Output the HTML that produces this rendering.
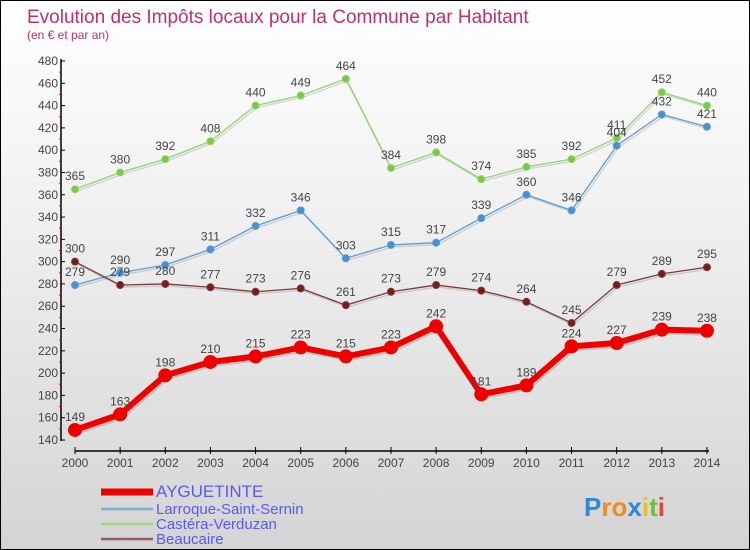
<!DOCTYPE html>
<html><head><meta charset="utf-8"><style>
body{margin:0;}
#c{width:748px;height:548px;border:1px solid #000;background:linear-gradient(#fff 0%,#f0f0f0 40%,#d4d4d4 100%);position:relative;font-family:"Liberation Sans",sans-serif;overflow:hidden}
</style></head><body>
<div id="c">
<svg id="s" width="748" height="548"></svg>
</div>
<script>
const years=[2000,2001,2002,2003,2004,2005,2006,2007,2008,2009,2010,2011,2012,2013,2014];
const ayg=[149,163,198,210,215,223,215,223,242,181,189,224,227,239,238];
const lar=[279,290,297,311,332,346,303,315,317,339,360,346,404,432,421];
const cas=[365,380,392,408,440,449,464,384,398,374,385,392,411,452,440];
const bea=[300,279,280,277,273,276,261,273,279,274,264,245,279,289,295];
const yTicks=[140,160,180,200,220,240,260,280,300,320,340,360,380,400,420,440,460,480];
const NS="http://www.w3.org/2000/svg",s=document.getElementById('s');
const X=i=>74+i*45.14, Y=v=>439-(v-140)*(379/340);
function el(t,a,p){const e=document.createElementNS(NS,t);for(const k in a)e.setAttribute(k,a[k]);(p||s).appendChild(e);return e;}
let t=el('text',{x:26,y:22,'font-size':19,fill:'#c0306a'});t.textContent='Evolution des Impôts locaux pour la Commune par Habitant';

t=el('text',{x:26,y:38,'font-size':12,fill:'#c0306a'});t.textContent='(en € et par an)';

let a=el('line',{x1:60,y1:58,x2:60,y2:440,stroke:'#000','stroke-width':1.5});

a=el('line',{x1:74,y1:450,x2:708,y2:450,stroke:'#000','stroke-width':1.5});

yTicks.forEach((v,i)=>{el('line',{x1:60,y1:Y(v),x2:64,y2:Y(v),stroke:'#000'});
 if(i<yTicks.length-1)el('line',{x1:58,y1:Y(v+10),x2:61,y2:Y(v+10),stroke:'#e00'});
 const l=el('text',{x:57,y:Y(v)+4,'font-size':12,'text-anchor':'end',fill:'#444'});l.textContent=v;
 });
years.forEach((y,i)=>{el('line',{x1:X(i),y1:446,x2:X(i),y2:453,stroke:'#000'});
 const l=el('text',{x:X(i),y:466,'font-size':12,'text-anchor':'middle',fill:'#444'});l.textContent=y;
 });
function series(d,col,w,r,name,fill){
 const g=el('g',{});
 const pts=d.map((v,i)=>X(i)+','+Y(v)).join(' ');
 el('polyline',{points:d.map((v,i)=>(X(i)+1.5)+','+(Y(v)+2)).join(' '),fill:'none',stroke:'rgba(0,0,0,0.15)','stroke-width':w},g);
 el('polyline',{points:pts,fill:'none',stroke:col,'stroke-width':w,'stroke-linejoin':'round'},g);
 d.forEach((v,i)=>{const c=el('circle',{cx:X(i),cy:Y(v),r:r,fill:fill,stroke:col},g);
  
  const l=el('text',{x:X(i),y:Y(v)-9,'font-size':12,'text-anchor':'middle',fill:'#444'},g);l.textContent=v;});
}
series(cas,'#8fd46a',1.3,3.5,'series-castera-verduzan','#7cc83e');
series(lar,'#5e9cd0',1.3,3.5,'series-larroque-saint-sernin','#4a90d0');
series(bea,'#7a3a3a',1.3,3.5,'series-beaucaire','#7a1a1a');
series(ayg,'#ee0000',6,6.5,'series-ayguetinte','#ee0000');
const leg=[['AYGUETINTE','#ee0000',7,491,17],['Larroque-Saint-Sernin','#7aaed0',2.5,508,15],['Castéra-Verduzan','#9ed880',2.5,523,15],['Beaucaire','#8a6060',2.5,538,15]];
leg.forEach(([n,c,w,y,fs])=>{const g=el('g',{});
 el('line',{x1:100,y1:y,x2:152,y2:y,stroke:c,'stroke-width':w},g);
 const l=el('text',{x:155,y:y+5,'font-size':fs,fill:'#5a5af0'},g);l.textContent=n;});
t=el('text',{x:583,y:515,'font-size':26,'font-weight':'bold'});

[['P','#2a8ad8'],['r','#f08a1a'],['o','#f08a1a'],['x','#2a8ad8'],['i','#e8c020'],['t','#6ac040'],['i','#e84040']].forEach(([ch,c])=>{const sp=el('tspan',{fill:c},t);sp.textContent=ch;});
</script>
</body></html>
